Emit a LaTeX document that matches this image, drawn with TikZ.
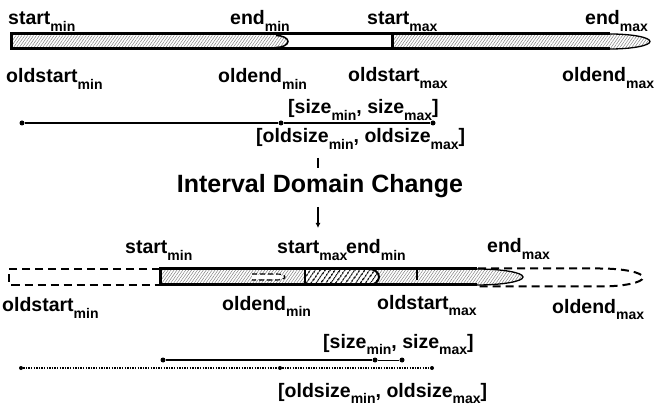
\documentclass[tikz,border=0pt]{standalone}
\usepackage{fontspec}
\setmainfont{Liberation Sans}
\usetikzlibrary{patterns.meta,arrows.meta}
\newcommand{\lsub}[1]{\raisebox{-6.5pt}{\fontsize{14}{14}\selectfont\bfseries #1}}
\begin{document}
\begin{tikzpicture}[x=1pt,y=-1pt,
  lbl/.style={inner sep=0pt, anchor=base west, font=\fontsize{19.5}{20}\selectfont\bfseries},
  dot/.style={circle, fill=black, inner sep=0pt, minimum size=5pt},
  sdot/.style={circle, fill=black, inner sep=0pt, minimum size=4pt},
  barline/.style={line width=3pt},
  lighthatch/.style={pattern={Lines[angle=55,distance=2.4pt,line width=0.5pt]}, pattern color=black!50},
  densehatch/.style={pattern={Lines[angle=55,distance=4pt,line width=1.5pt]}, pattern color=black},
  olddash/.style={line width=2pt, dash pattern=on 8pt off 5pt},
]
\useasboundingbox (0,0) rectangle (659,414);

% ---------- top bar ----------
\path[lighthatch] (11.5,35.5) -- (276,35.5) arc[start angle=90,end angle=-90,x radius=12pt,y radius=6pt] -- (11.5,47.5) -- cycle;
\draw[line width=1.5pt] (276,35.5) arc[start angle=90,end angle=-90,x radius=12pt,y radius=6pt];
\path[lighthatch] (392,34) -- (610,34) arc[start angle=90,end angle=-90,x radius=40pt,y radius=7.5pt] -- (392,49) -- cycle;
\draw[line width=1.3pt] (610,34) arc[start angle=90,end angle=-90,x radius=40pt,y radius=7.5pt];
\draw[barline] (610,34) -- (11.5,34) -- (11.5,49) -- (610,49);
\draw[barline] (392,34) -- (392,49);

% top labels
\node[lbl] (tsmin) at (8,25) {start\lsub{min}};
\node[lbl] (temin) at (230,25) {end\lsub{min}};
\node[lbl] (tsmax) at (367,25) {start\lsub{max}};
\node[lbl] (temax) at (585,25) {end\lsub{max}};
\node[lbl] (tosmin) at (6,83) {oldstart\lsub{min}};
\node[lbl] (toemin) at (218,83) {oldend\lsub{min}};
\node[lbl] (tosmax) at (348,82) {oldstart\lsub{max}};
\node[lbl] (toemax) at (562,82) {oldend\lsub{max}};

% top size line
\node[lbl] (tsz) at (288,114) {[size\lsub{min}, size\lsub{max}]};
\node[dot] (p1) at (22,123) {};
\node[dot] (p2) at (281,123) {};
\node[dot] (p3) at (433,123) {};
\draw[line width=2pt] (p1) -- (p2) -- (p3);
\node[lbl] (tosz) at (256,143) {[oldsize\lsub{min}, oldsize\lsub{max}]};

% title and arrows
\coordinate (st1) at (318,158);
\coordinate (st2) at (318,168);
\draw[line width=1.6pt] (st1) -- (st2);
\node[inner sep=0pt, anchor=base, font=\fontsize{25}{28}\selectfont\bfseries] (title) at (320,193) {Interval Domain Change};
\coordinate (ar1) at (318,207);
\coordinate (ar2) at (318,228);
\draw[line width=1.3pt, -{Latex[length=5pt,width=5pt]}] (ar1) -- (ar2);

% ---------- bottom bar ----------
\draw[olddash] (160,269.5) -- (9,269.5) -- (9,285) -- (160,285);
\draw[olddash] (478,268.5) -- (600,268.5) arc[start angle=90,end angle=-90,x radius=43pt,y radius=9pt] -- (478,286.5);
\path[lighthatch] (160,269) -- (477,269) arc[start angle=90,end angle=-90,x radius=46pt,y radius=8pt] -- (160,285) -- cycle;
\draw[line width=1.3pt] (477,269) arc[start angle=90,end angle=-90,x radius=46pt,y radius=8pt];
% old end_min (dashed)
\fill[white] (252,275) -- (276,275) arc[start angle=90,end angle=-90,x radius=7pt,y radius=2pt] -- (252,279) -- cycle;
\draw[line width=1.1pt, dash pattern=on 5pt off 3pt] (252,274) -- (277,274) arc[start angle=90,end angle=-90,x radius=8pt,y radius=3pt] -- (252,280);
% mandatory part
\fill[white] (305,269) -- (369,269) arc[start angle=90,end angle=-90,x radius=10pt,y radius=8pt] -- (305,285) -- cycle;
\path[densehatch] (305,269) -- (369,269) arc[start angle=90,end angle=-90,x radius=10pt,y radius=8pt] -- (305,285) -- cycle;
\draw[line width=2pt] (369,269) arc[start angle=90,end angle=-90,x radius=10pt,y radius=8pt];
\draw[line width=2.5pt] (305,269) -- (305,285);
\draw[barline] (477,269) -- (160,269) -- (160,285) -- (477,285);
\draw[line width=2pt] (417,269) -- (417,280);

% bottom labels
\node[lbl] (bsmin) at (125,254) {start\lsub{min}};
\node[lbl] (bsmax) at (277,254) {start\lsub{max}};
\node[lbl] (bemin) at (346,254) {end\lsub{min}};
\node[lbl] (bemax) at (487,253) {end\lsub{max}};
\node[lbl] (bosmin) at (2,312) {oldstart\lsub{min}};
\node[lbl] (boemin) at (222,310) {oldend\lsub{min}};
\node[lbl] (bosmax) at (377,309) {oldstart\lsub{max}};
\node[lbl] (boemax) at (552,313) {oldend\lsub{max}};

% bottom size lines
\node[lbl] (bsz) at (323,348) {[size\lsub{min}, size\lsub{max}]};
\node[dot] (q1) at (163,360) {};
\node[dot] (q2) at (375,360) {};
\node[dot] (q3) at (402,360) {};
\draw[line width=2.2pt] (q1) -- (q2);
\draw[line width=1pt] (q2) -- (q3);
\node[sdot] (r1) at (21,368) {};
\node[sdot] (r2) at (280,368) {};
\node[sdot] (r3) at (432,368) {};
\draw[line width=1.3pt, dash pattern=on 1.3pt off 1.3pt] (r1) -- (r2) -- (r3);
\node[lbl] (bosz) at (278,397) {[oldsize\lsub{min}, oldsize\lsub{max}]};
\end{tikzpicture}
\end{document}
